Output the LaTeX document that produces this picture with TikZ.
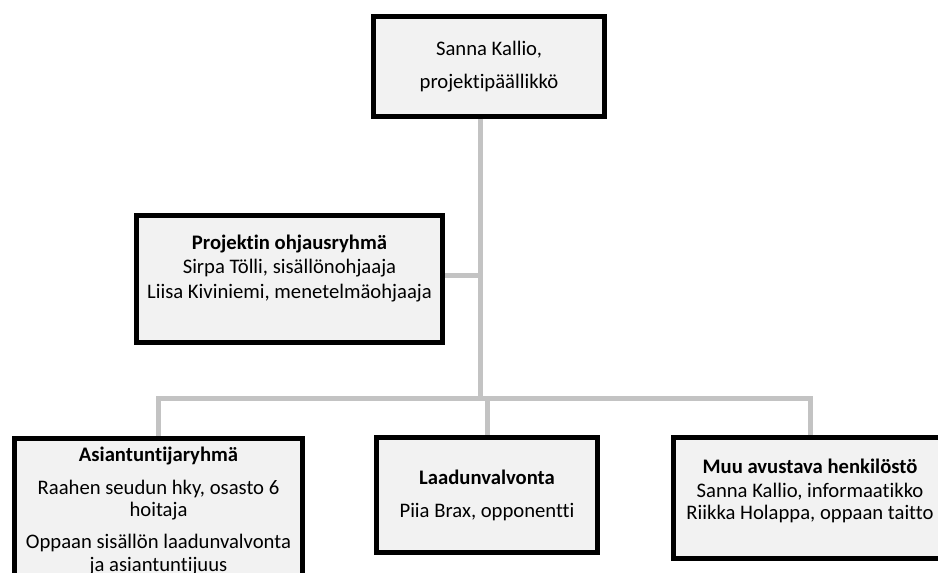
\documentclass[tikz,border=0pt]{standalone}
\usepackage{fontspec}
\setmainfont{Carlito}[Ligatures=NoCommon]
\definecolor{boxgray}{HTML}{F2F2F2}
\definecolor{linkgray}{HTML}{C3C3C3}
\usetikzlibrary{positioning,shadows}
\newcommand{\liftup}[1]{\rule[-#1]{0pt}{#1}}

\begin{document}
\begin{tikzpicture}[x=0.6pt,y=-0.6pt,
  orgbox/.style={draw=black,line width=3pt,fill=boxgray,align=center,inner sep=0pt,
    font=\fontsize{12.4}{13.4}\selectfont,
    drop shadow={shadow xshift=0.7pt,shadow yshift=-0.7pt,fill=black!40,opacity=1}},
  link/.style={draw=linkgray,line width=3pt}]
  \useasboundingbox (0,0) rectangle (938,572);
  \clip (0,0) rectangle (938,572);

  % Boxes
  \node[orgbox,minimum width=138.6pt,minimum height=60pt] (lead) at (489,66.5)
    {Sanna Kallio,\\[6.4pt] projektipäällikkö};
  \node[orgbox,minimum width=183.6pt,minimum height=76.2pt] (steer) at (289.5,279)
    {\textbf{Projektin ohjausryhmä}\\[1.3pt] Sirpa Tölli, sisällönohjaaja\\[1.3pt]
     Liisa Kiviniemi, menetelmäohjaaja\liftup{15pt}};
  \node[orgbox,minimum width=172.8pt,inner ysep=5.5pt,anchor=north] (expert) at (158.5,435.5)
    {\textbf{Asiantuntijaryhmä}\\[6pt] Raahen seudun hky, osasto 6\\ hoitaja\\[6pt]
     Oppaan sisällön laadunvalvonta\\ ja asiantuntijuus\liftup{12pt}};
  \node[orgbox,minimum width=132.6pt,minimum height=69pt] (quality) at (487,495)
    {\textbf{Laadunvalvonta}\\[6.4pt] Piia Brax, opponentti};
  \node[orgbox,minimum width=163.8pt,minimum height=72.6pt] (misc) at (810,498)
    {\textbf{Muu avustava henkilöstö}\\[1pt] Sanna Kallio, informaatikko\\
     Riikka Holappa, oppaan taitto\liftup{10.6pt}};

  % Connectors
  \coordinate (hub) at (480,398);
  \draw[link] (lead.south -| hub) -- (hub);
  \draw[link] ([yshift=2.4pt]steer.east) -- ([yshift=2.4pt]steer.east -| hub);
  \draw[link] (expert.north) -- (expert.north |- hub) -- (misc.north |- hub) -- (misc.north);
  \draw[link] (quality.north |- hub) -- (quality.north);
\end{tikzpicture}
\end{document}
